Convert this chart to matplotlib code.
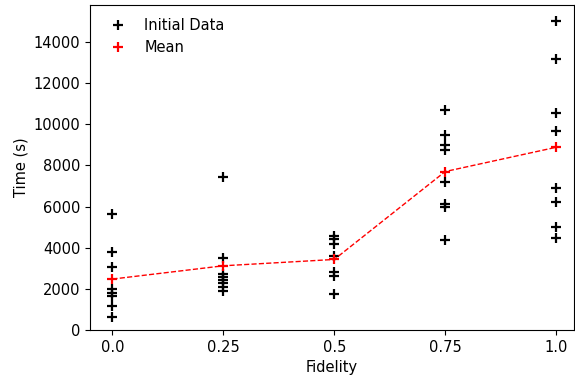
import matplotlib
matplotlib.use("Agg")
import matplotlib.pyplot as plt

fidelities = [0.0, 0.25, 0.5, 0.75, 1.0]
tick_labels = ["0.0", "0.25", "0.5", "0.75", "1.0"]
times_f000 = [5640, 3800, 3080, 1980, 1815, 1650, 1170, 650]
times_f025 = [7450, 3485, 2710, 2590, 2430, 2270, 2110, 1910]
times_f050 = [4580, 4430, 4200, 3600, 2800, 2630, 1750]
times_f075 = [10700, 9480, 8990, 8750, 7210, 6110, 5990, 4375]
times_f100 = [15020, 13160, 10530, 9690, 6920, 6240, 5020, 4460]
groups = [times_f000, times_f025, times_f050, times_f075, times_f100]
means = [sum(g) / len(g) for g in groups]

plt.rcParams["font.size"] = 10.5

fig = plt.figure(figsize=(5.75, 3.81), dpi=100)
ax = fig.add_axes([0.157, 0.134, 0.841, 0.853])

first = True
for f, g in zip(fidelities, groups):
    ax.plot([f] * len(g), g, linestyle="none", marker="+", color="black",
            markersize=7, markeredgewidth=1.6,
            label="Initial Data" if first else None)
    first = False
ax.plot(fidelities, means, linestyle="--", color="red", linewidth=1.0)
ax.plot(fidelities, means, linestyle="none", color="red", marker="+",
        markersize=7, markeredgewidth=1.6, label="Mean")

ax.set_xlim(-0.05, 1.04)
ax.set_ylim(0, 15800)
ax.set_xticks(fidelities)
ax.set_xticklabels(tick_labels)
ax.set_yticks(range(0, 14001, 2000))
ax.set_xlabel("Fidelity")
ax.set_ylabel("Time (s)")
ax.legend(loc="upper left", frameon=False)

fig.savefig("out.png", dpi=100)
